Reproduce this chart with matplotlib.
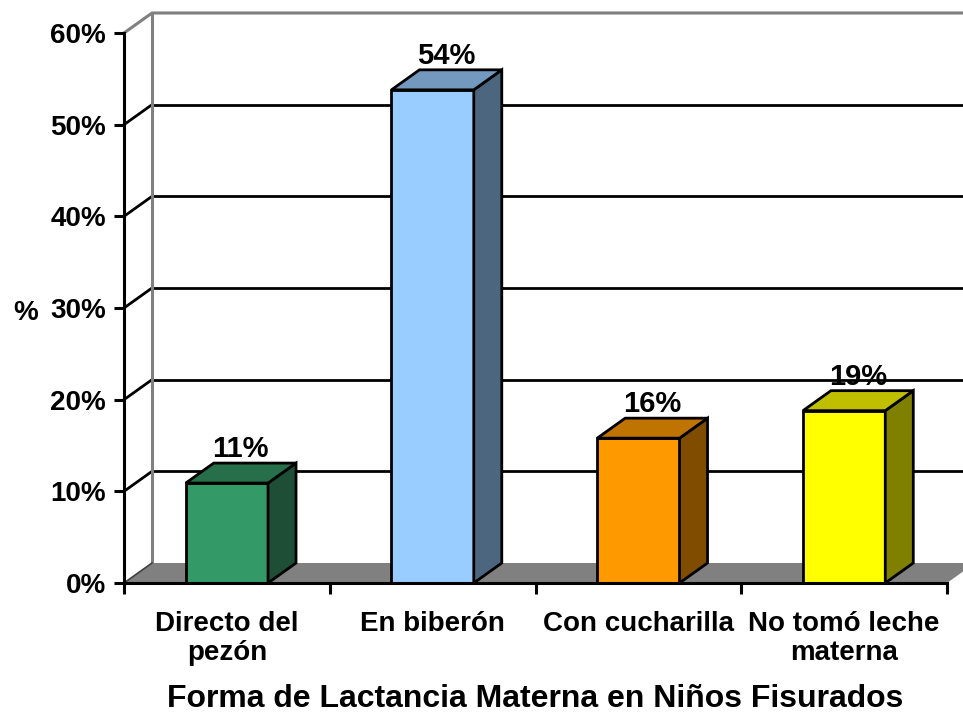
import matplotlib.pyplot as plt
from matplotlib.patches import Polygon

# data
categories = ["Directo del\npezón", "En biberón", "Con cucharilla", "No tomó leche\nmaterna"]
values = [10.9, 53.8, 15.8, 18.8]
labels = ["11%", "54%", "16%", "19%"]
front_colors = ["#339966", "#99CCFF", "#FF9900", "#FFFF00"]
side_colors = ["#1E4E35", "#4D6680", "#804D00", "#808000"]
top_colors = ["#266F4A", "#7399BF", "#BF7300", "#BFBF00"]
yticks = [0, 10, 20, 30, 40, 50, 60]

plt.rcParams['font.family'] = ['Liberation Sans', 'DejaVu Sans']
plt.rcParams['font.weight'] = 'bold'

W, H = 963, 718
fig = plt.figure(figsize=(W / 100, H / 100), dpi=100)
# front plane of the 3d box, in pixels
left, right, bottom, top = 124, 947, 583, 33
ax = fig.add_axes([left / W, (H - bottom) / H, (right - left) / W, (bottom - top) / H])
ax.set_xlim(0, 4)
ax.set_ylim(0, 60)

# depth offset of the 3d effect, converted to data units
dx = 28 / ((right - left) / 4)
dy = 20 / ((bottom - top) / 60)
bw = 0.4

# floor
ax.add_patch(Polygon([(0, 0), (4, 0), (4 + dx, dy), (dx, dy)], closed=True,
                     facecolor="#808080", edgecolor="none", zorder=1, clip_on=False))

# gridlines on back wall and side wall
for v in yticks[1:-1]:
    ax.plot([dx, 4 + dx], [v + dy, v + dy], color="black", lw=2, zorder=0.5, clip_on=False)
    ax.plot([0, dx], [v, v + dy], color="black", lw=2, zorder=0.5, clip_on=False)
ax.plot([0, dx], [0, dy], color="#404040", lw=1.2, zorder=1.5, clip_on=False)
# wall borders (gray)
ax.plot([dx, dx], [dy, 60 + dy], color="#808080", lw=2.2, zorder=0.6, clip_on=False)
ax.plot([0, dx, 4 + dx], [60, 60 + dy, 60 + dy], color="#808080", lw=2.2, zorder=0.6, clip_on=False)

# bars
for i, v in enumerate(values):
    xc = i + 0.5
    x0, x1 = xc - bw / 2, xc + bw / 2
    ax.add_patch(Polygon([(x0, 0), (x1, 0), (x1, v), (x0, v)], closed=True,
                         facecolor=front_colors[i], edgecolor="black", lw=2, zorder=3))
    ax.add_patch(Polygon([(x1, 0), (x1 + dx, dy), (x1 + dx, v + dy), (x1, v)], closed=True,
                         facecolor=side_colors[i], edgecolor="black", lw=2, zorder=3))
    ax.add_patch(Polygon([(x0, v), (x1, v), (x1 + dx, v + dy), (x0 + dx, v + dy)], closed=True,
                         facecolor=top_colors[i], edgecolor="black", lw=2, zorder=3))
    ax.text(xc + dx / 2, v + dy, labels[i], ha="center", va="bottom",
            fontsize=21, fontweight="bold", zorder=5)

# axes styling
for s in ["top", "right"]:
    ax.spines[s].set_visible(False)
ax.spines["left"].set_linewidth(2.2)
ax.spines["bottom"].set_linewidth(2.2)
ax.spines["left"].set_zorder(4)
ax.spines["bottom"].set_zorder(4)
ax.set_facecolor("none")

ax.set_yticks(yticks)
ax.set_yticklabels([f"{t}%" for t in yticks], fontsize=20, fontweight="bold")
ax.tick_params(axis="y", direction="out", length=7, width=2.2, pad=6)

ax.set_xticks([0, 1, 2, 3, 4])
ax.set_xticklabels([])
ax.tick_params(axis="x", which="major", direction="out", length=8, width=2.2)
ax.set_xticks([0.5, 1.5, 2.5, 3.5], minor=True)
ax.set_xticklabels(categories, minor=True, fontsize=20, fontweight="bold", linespacing=1.15)
ax.tick_params(axis="x", which="minor", length=0, pad=20)

ax.set_ylabel("%", fontsize=20, fontweight="bold", rotation=0, va="center")
ax.yaxis.set_label_coords(-0.12, 0.49)
ax.set_xlabel("Forma de Lactancia Materna en Niños Fisurados", fontsize=23, fontweight="bold", labelpad=13)

fig.savefig("out.png", dpi=100, facecolor="white")
